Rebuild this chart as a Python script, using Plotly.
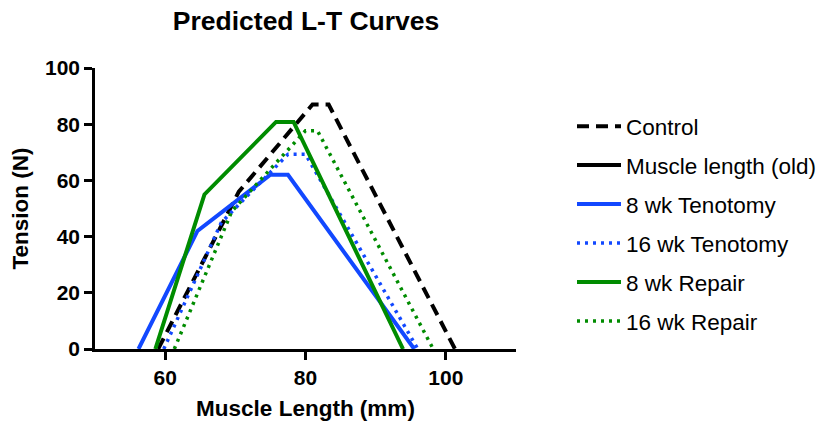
import plotly.graph_objects as go

# Predicted length-tension curves (muscle length in mm, tension in N)
control_len = [59.0, 70.5, 81.0, 83.3, 101.3]
control_ten = [0, 56, 87, 87, 0]

# no points recorded for the old muscle length; kept as a legend entry
old_len = [None]
old_ten = [None]

ten8_len = [56.2, 64.6, 75.0, 77.5, 95.5]
ten8_ten = [0, 42, 62, 62, 0]

ten16_len = [59.8, 68.0, 77.5, 80.0, 96.0]
ten16_ten = [0, 45, 69.3, 69.3, 0]

rep8_len = [58.6, 65.6, 75.8, 78.3, 93.9]
rep8_ten = [0, 55, 80.8, 80.8, 0]

rep16_len = [61.3, 69.5, 80.0, 81.7, 98.2]
rep16_ten = [0, 49, 77.7, 77.7, 0]

BLUE = "rgb(18,72,255)"
GREEN = "rgb(0,140,0)"
BLACK = "black"
FONT = "Liberation Sans, Arial, Helvetica, sans-serif"

series = [
    ("Control", control_len, control_ten, BLACK, "12px,7px", 4),
    ("Muscle length (old)", old_len, old_ten, BLACK, "solid", 4),
    ("8 wk Tenotomy", ten8_len, ten8_ten, BLUE, "solid", 4),
    ("16 wk Tenotomy", ten16_len, ten16_ten, BLUE, "3px,5px", 3.5),
    ("8 wk Repair", rep8_len, rep8_ten, GREEN, "solid", 4),
    ("16 wk Repair", rep16_len, rep16_ten, GREEN, "3px,5px", 3.5),
]

fig = go.Figure()
for i, (name, xs, ys, color, dash, width) in enumerate(series):
    fig.add_trace(go.Scatter(
        x=xs, y=ys, mode="lines", name=name,
        legendgroup=f"g{i}", showlegend=True,
        line=dict(color=color, dash=dash, width=width),
        cliponaxis=False,
    ))

axis_common = dict(
    showline=True, linecolor="black", linewidth=2.5,
    ticks="outside", ticklen=8, tickwidth=2.5, tickcolor="black",
    showgrid=False, zeroline=False,
    tickfont=dict(family=FONT, size=21, color="black", weight="bold"),
)

fig.update_layout(
    width=825, height=430,
    margin=dict(l=95, r=309, t=68, b=81),
    paper_bgcolor="white", plot_bgcolor="white",
    title=dict(
        text="<b>Predicted L-T Curves</b>",
        x=0.371, xref="container", xanchor="center",
        y=1 - 21 / 430, yref="container", yanchor="middle",
        font=dict(family=FONT, size=26.5, color="black"),
    ),
    xaxis=dict(
        range=[50, 110], tick0=0, dtick=20,
        title=dict(text="<b>Muscle Length (mm)</b>", standoff=13,
                   font=dict(family=FONT, size=22.5, color="black")),
        **axis_common,
    ),
    yaxis=dict(
        range=[0, 100], tick0=0, dtick=20,
        title=dict(text="<b>Tension (N)</b>", standoff=11,
                   font=dict(family=FONT, size=22.5, color="black")),
        **axis_common,
    ),
    legend=dict(
        x=572 / 825, xref="container", xanchor="left",
        y=1 - 105 / 430, yref="container", yanchor="top",
        font=dict(family=FONT, size=22.5, color="black"),
        itemwidth=44,
        tracegroupgap=6.7,
        maxheight=1.0,
        bgcolor="rgba(0,0,0,0)",
    ),
    showlegend=True,
)

fig.write_html("out.html")
